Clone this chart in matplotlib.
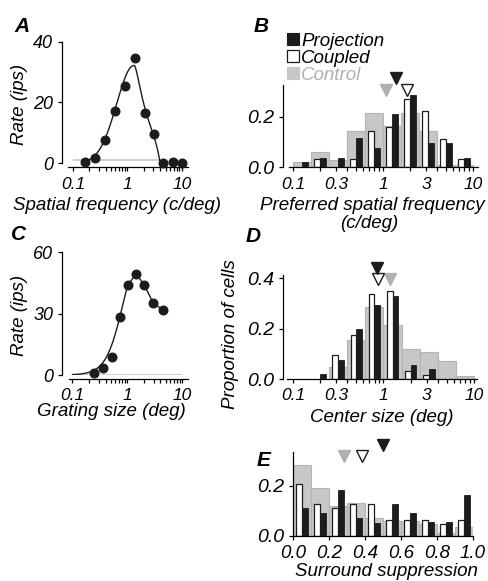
import numpy as np
import matplotlib
matplotlib.use('Agg')
import matplotlib.pyplot as plt
from matplotlib.patches import Patch
from matplotlib.ticker import FixedLocator, FixedFormatter, NullLocator

# ---------------- data ----------------
# Panel A: example cell spatial frequency tuning
a_sf = [0.166, 0.254, 0.386, 0.59, 0.90, 1.37, 2.1, 3.1, 4.4, 6.7, 10.2]
a_rate = [0.5, 1.8, 7.7, 17.3, 25.5, 34.8, 16.4, 9.5, 0.2, 0.5, 0.2]
a_baseline = 1.2
# fit parameters (asymmetric log-domain tuning)
a_fit_peak = 1.32
a_fit_amp = 32.2
a_fit_sigma_left = 0.32
a_fit_tau_right = 0.27
a_fit_cut = 0.48

# Panel C: example cell size tuning
c_size = [0.25, 0.355, 0.52, 0.73, 1.01, 1.45, 2.03, 2.93, 4.4]
c_rate = [0.8, 3.4, 9.0, 28.5, 44.0, 49.4, 44.0, 35.4, 31.8]
c_baseline = 0.2
c_fit_amp = 70.0
c_fit_c50 = 0.836
c_fit_n = 2.77

# Panel B: preferred spatial frequency histograms (log bins, 0.1 .. 10)
b_proj = [0.02, 0.038, 0.038, 0.115, 0.077, 0.21, 0.286, 0.096, 0.096, 0.038]
b_coup = [0.0, 0.032, 0.0, 0.032, 0.143, 0.16, 0.272, 0.225, 0.112, 0.032]
b_ctrl = [0.022, 0.062, 0.03, 0.145, 0.216, 0.165, 0.216, 0.145, 0.009, 0.009]
b_med_ctrl, b_med_proj, b_med_coup = 1.07, 1.39, 1.83

# Panel D: center size histograms (log bins, 0.1 .. 10)
d_proj = [0.0, 0.02, 0.075, 0.2, 0.293, 0.329, 0.055, 0.038, 0.0, 0.0]
d_coup = [0.0, 0.0, 0.095, 0.174, 0.335, 0.35, 0.033, 0.017, 0.0, 0.0]
d_ctrl = [0.0, 0.0, 0.049, 0.154, 0.284, 0.214, 0.118, 0.108, 0.072, 0.013]
d_med_ctrl, d_med_proj, d_med_coup = 1.18, 0.84, 0.86

# Panel E: surround suppression histograms (linear bins, 0 .. 1)
e_proj = [0.11, 0.092, 0.183, 0.072, 0.052, 0.127, 0.09, 0.054, 0.054, 0.163]
e_coup = [0.207, 0.127, 0.11, 0.127, 0.127, 0.063, 0.063, 0.063, 0.047, 0.063]
e_ctrl = [0.283, 0.19, 0.119, 0.13, 0.07, 0.059, 0.059, 0.047, 0.012, 0.034]
e_med_ctrl, e_med_coup, e_med_proj = 0.285, 0.382, 0.502

log_edges = np.linspace(-1, 1, 11)        # log10 bin edges 0.1 .. 10
lin_edges = np.linspace(0, 1, 11)         # linear bin edges 0 .. 1

log_ticks = [0.1, 0.2, 0.3, 0.4, 0.5, 0.6, 0.7, 0.8, 0.9, 1, 2, 3, 4, 5, 6, 7, 8, 9, 10]

# ---------------- style ----------------
W, H = 489, 581
plt.rcParams['font.family'] = ['Liberation Sans', 'DejaVu Sans']
plt.rcParams['font.style'] = 'italic'
BLACK = '#1c1c1c'
GRAY_F = '#c7c7c7'
GRAY_E = '#b3b3b3'
GRAY_T = '#b0b0b0'
TICK_FS = 12.5
YTICK_FS = 14
LABEL_FS = 13.5

fig = plt.figure(figsize=(W / 100, H / 100), dpi=100)


def add_ax(l, r, t, b):
    return fig.add_axes([l / W, 1 - b / H, (r - l) / W, (b - t) / H])


def ftext(x, y, s, **kw):
    fig.text(x / W, 1 - y / H, s, **kw)


def style(ax, yfs):
    for s in ('top', 'right'):
        ax.spines[s].set_visible(False)
    for s in ('left', 'bottom'):
        ax.spines[s].set_linewidth(0.9)
    ax.tick_params(direction='out', length=3.2, width=0.9, pad=3)
    ax.tick_params(axis='y', labelsize=yfs)
    ax.tick_params(axis='x', labelsize=TICK_FS, pad=3.5)


def log_xaxis(ax, labels):
    ax.set_xscale('log')
    ax.xaxis.set_major_locator(FixedLocator(log_ticks))
    ax.xaxis.set_major_formatter(FixedFormatter([labels.get(t, '') for t in log_ticks]))
    ax.xaxis.set_minor_locator(NullLocator())


def hist_bars(ax, edges, proj, coup, ctrl, logx):
    frac = 0.32
    for i in range(len(proj)):
        lo, hi = edges[i], edges[i + 1]
        c = (lo + hi) / 2
        w = (hi - lo) * frac
        segs = [(lo, hi), (c - w, c), (c, c + w)]
        if logx:
            segs = [(10 ** a, 10 ** b) for a, b in segs]
        (g0, g1), (w0, w1), (k0, k1) = segs
        if ctrl[i] > 0:
            ax.bar(g0, ctrl[i], width=g1 - g0, align='edge', color=GRAY_F,
                   edgecolor=GRAY_E, linewidth=0.8, zorder=1)
        if coup[i] > 0:
            ax.bar(w0, coup[i], width=w1 - w0, align='edge', color='white',
                   edgecolor=BLACK, linewidth=0.9, zorder=2)
        if proj[i] > 0:
            ax.bar(k0, proj[i], width=k1 - k0, align='edge', color=BLACK,
                   edgecolor=BLACK, linewidth=0.6, zorder=3)


def medians(ax, ctrl, coup, proj, ppu):
    ytop = ax.get_ylim()[1]
    low = ytop - 4.5 / ppu
    high = ytop + 7 / ppu
    kw = dict(marker='v', markersize=8, clip_on=False, zorder=5, linestyle='none')
    ax.plot([ctrl], [low], markerfacecolor=GRAY_T, markeredgecolor=GRAY_T, **kw)
    ax.plot([coup], [low], markerfacecolor='white', markeredgecolor=BLACK,
            markeredgewidth=1.0, **kw)
    ax.plot([proj], [high], markerfacecolor=BLACK, markeredgecolor=BLACK, **kw)


# ---------------- Panel A ----------------
axA = add_ax(62, 190, 41.7, 163.3)
style(axA, 13)
log_xaxis(axA, {0.1: '0.1', 1: '1', 10: '10'})
axA.set_xlim(10 ** -1.2018, 10 ** 1.147)
axA.set_ylim(0, 40)
axA.set_yticks([0, 20, 40])
axA.spines['bottom'].set_position(('outward', 3))
axA.spines['bottom'].set_bounds(0.081, 12.9)
axA.hlines(a_baseline, 0.1, a_fit_peak * 10 ** (a_fit_cut - 0.02), color='#c8c8c8',
           linewidth=1.2, zorder=1)
u = np.linspace(np.log10(a_sf[0]), np.log10(a_fit_peak) + a_fit_cut, 400)
dd = u - np.log10(a_fit_peak)
left = a_fit_amp * np.exp(-dd ** 2 / (2 * a_fit_sigma_left ** 2))
r0 = 0.05
right = a_fit_amp * np.exp(-(np.sqrt(dd ** 2 + r0 ** 2) - r0) / a_fit_tau_right) * \
    (1 - np.clip(dd / a_fit_cut, 0, 1) ** 8)
fitA = np.where(dd < 0, left, right)
axA.plot(10 ** u, fitA, color=BLACK, linewidth=1.0, zorder=2)
axA.plot(a_sf, a_rate, 'o', color=BLACK, markersize=6.2, clip_on=False, zorder=3)

# ---------------- Panel C ----------------
axC = add_ax(62, 190, 252.3, 375)
style(axC, 13)
log_xaxis(axC, {0.1: '0.1', 1: '1', 10: '10'})
axC.set_xlim(10 ** -1.191, 10 ** 1.14)
axC.set_ylim(0, 60)
axC.set_yticks([0, 30, 60])
axC.spines['bottom'].set_position(('outward', 3))
axC.spines['bottom'].set_bounds(0.085, 12.8)
axC.hlines(c_baseline, 0.1, 10, color='#c8c8c8', linewidth=1.2, zorder=1)
s = np.logspace(-1, np.log10(c_size[4]), 300)
fitC = c_fit_amp * s ** c_fit_n / (s ** c_fit_n + c_fit_c50 ** c_fit_n)
xs = np.concatenate([s, c_size[5:]])
ys = np.concatenate([fitC, c_rate[5:]])
axC.plot(xs, ys, color=BLACK, linewidth=1.0, zorder=2)
axC.plot(c_size, c_rate, 'o', color=BLACK, markersize=6.2, clip_on=False, zorder=3)

# ---------------- Panel B ----------------
axB = add_ax(283, 478, 85, 167.3)
style(axB, YTICK_FS)
hist_bars(axB, log_edges, b_proj, b_coup, b_ctrl, True)
log_xaxis(axB, {0.1: '0.1', 0.3: '0.3', 1: '1', 3: '3', 10: '10'})
axB.set_xlim(10 ** -1.111, 10 ** 1.056)
axB.set_ylim(0, 0.327)
axB.set_yticks([0.0, 0.2])
axB.set_yticklabels(['0.0', '0.2'])
axB.spines['bottom'].set_bounds(10 ** -1.044, 10 ** 1.052)
medians(axB, b_med_ctrl, b_med_coup, b_med_proj, 251.5)

handles = [Patch(facecolor=BLACK, edgecolor=BLACK, linewidth=0.8),
           Patch(facecolor='white', edgecolor=BLACK, linewidth=0.9),
           Patch(facecolor=GRAY_F, edgecolor=GRAY_F, linewidth=0.8)]
leg = axB.legend(handles, ['Projection', 'Coupled', 'Control'],
                 loc='upper left', bbox_to_anchor=(287 / W, 1 - 33 / H),
                 bbox_transform=fig.transFigure, frameon=False,
                 fontsize=13.5, handlelength=0.62, handleheight=0.62,
                 handletextpad=0.15, labelspacing=0.0, borderpad=0,
                 borderaxespad=0)
leg.get_texts()[2].set_color(GRAY_T)

# ---------------- Panel D ----------------
axD = add_ax(283, 477, 275, 379)
style(axD, YTICK_FS)
hist_bars(axD, log_edges, d_proj, d_coup, d_ctrl, True)
log_xaxis(axD, {0.1: '0.1', 0.3: '0.3', 1: '1', 3: '3', 10: '10'})
axD.set_xlim(10 ** -1.110, 10 ** 1.033)
axD.set_ylim(0, 0.412)
axD.set_yticks([0.0, 0.2, 0.4])
axD.set_yticklabels(['0.0', '0.2', '0.4'])
axD.spines['bottom'].set_bounds(10 ** -1.07, 10 ** 1.033)
medians(axD, d_med_ctrl, d_med_coup, d_med_proj, 252.5)

# ---------------- Panel E ----------------
axE = add_ax(293, 473, 451.7, 535.7)
style(axE, YTICK_FS)
hist_bars(axE, lin_edges, e_proj, e_coup, e_ctrl, False)
axE.set_xlim(0, 1)
axE.set_ylim(0, 0.338)
axE.set_xticks([0.0, 0.2, 0.4, 0.6, 0.8, 1.0])
axE.set_xticklabels(['0.0', '0.2', '0.4', '0.6', '0.8', '1.0'])
axE.tick_params(axis='x', labelsize=13.5)
axE.set_yticks([0.0, 0.2])
axE.set_yticklabels(['0.0', '0.2'])
medians(axE, e_med_ctrl, e_med_coup, e_med_proj, 248.5)

# ---------------- texts ----------------
ftext(20, 104, 'Rate (ips)', rotation=90, ha='center', va='center', fontsize=LABEL_FS)
ftext(20, 315, 'Rate (ips)', rotation=90, ha='center', va='center', fontsize=LABEL_FS)
ftext(231, 334, 'Proportion of cells', rotation=90, ha='center', va='center', fontsize=LABEL_FS)
ftext(117, 206, 'Spatial frequency (c/deg)', ha='center', va='center', fontsize=LABEL_FS)
ftext(111, 412, 'Grating size (deg)', ha='center', va='center', fontsize=LABEL_FS)
ftext(372, 206, 'Preferred spatial frequency', ha='center', va='center', fontsize=LABEL_FS)
ftext(369, 224, '(c/deg)', ha='center', va='center', fontsize=LABEL_FS)
ftext(382, 417, 'Center size (deg)', ha='center', va='center', fontsize=LABEL_FS)
ftext(386, 571, 'Surround suppression', ha='center', va='center', fontsize=LABEL_FS)

for letter, x, y in [('A', 14, 26), ('B', 254, 26), ('C', 11, 235), ('D', 246, 236), ('E', 257, 461)]:
    ftext(x, y, letter, ha='left', va='center', fontsize=15, fontweight='bold')

fig.savefig('out.png', dpi=100)
